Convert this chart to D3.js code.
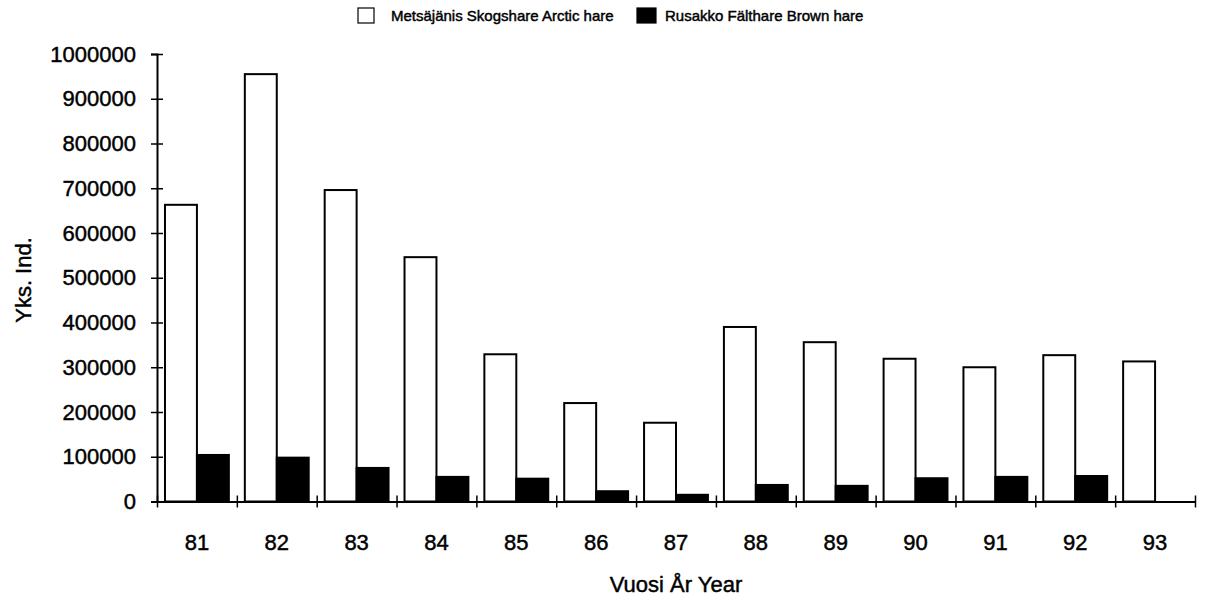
<!DOCTYPE html>
<html>
<head>
<meta charset="utf-8">
<script src="https://cdn.jsdelivr.net/npm/d3@7"></script>
<style>
  body { margin: 0; background: #fff; }
  svg { display: block; font-family: "Liberation Sans", Arial, sans-serif; }
  svg text { fill: #000; stroke: #000; stroke-width: 0.45px; }
</style>
</head>
<body>
<div id="chart"></div>
<script>
const years = ["81", "82", "83", "84", "85", "86", "87", "88", "89", "90", "91", "92", "93"];
const arcticHare = [663000, 955000, 696000, 546000, 329000, 220000, 176000, 390000, 356000, 319000, 300000, 327000, 313000];
const brownHare = [104000, 98000, 75000, 55000, 51000, 23000, 15000, 37000, 35000, 52000, 55000, 57000, null];
const seriesNames = ["Metsäjänis Skogshare Arctic hare", "Rusakko Fälthare Brown hare"];
const yTicks = [0, 100000, 200000, 300000, 400000, 500000, 600000, 700000, 800000, 900000, 1000000];

const width = 1211;
const height = 598;
const plotLeft = 157, plotRight = 1195, plotTop = 54, plotBottom = 501.5;

const svg = d3.select("#chart").append("svg")
  .attr("width", width)
  .attr("height", height);

const x = d3.scaleBand().domain(years).range([plotLeft, plotRight])
  .paddingInner(0.2).paddingOuter(0.1);
const sub = d3.scaleBand().domain([0, 1]).range([0, x.bandwidth()]);
const y = d3.scaleLinear().domain([0, 1000000]).range([plotBottom, plotTop]);

const fills = ["#fff", "#000"];

// bars
const rows = years.map((yr, i) => ({ yr, vals: [arcticHare[i], brownHare[i]] }));
const groups = svg.selectAll("g.year")
  .data(rows)
  .enter()
  .append("g")
  .attr("class", "year")
  .attr("transform", d => `translate(${x(d.yr)},0)`);

groups.selectAll("rect")
  .data(d => d.vals.map((v, k) => ({ v, k })).filter(e => e.v != null))
  .enter()
  .append("rect")
  .attr("x", d => sub(d.k))
  .attr("y", d => y(d.v))
  .attr("width", sub.bandwidth())
  .attr("height", d => y(0) - y(d.v))
  .attr("fill", d => fills[d.k])
  .attr("stroke", "#000")
  .attr("stroke-width", 2);

// y axis
const yAxis = svg.append("g")
  .attr("transform", `translate(${plotLeft},0)`)
  .call(d3.axisLeft(y).tickValues(yTicks).tickFormat(d3.format("d")).tickSize(6).tickPadding(15));
yAxis.select(".domain").attr("stroke-width", 2);
yAxis.selectAll(".tick line").attr("x1", -6).attr("x2", 6).attr("stroke-width", 1.5);
yAxis.selectAll(".tick text").style("font-size", "22px");

// x axis: ticks on category boundaries, labels at centers
const boundaries = d3.range(years.length + 1);
const xb = d3.scaleLinear().domain([0, years.length]).range([plotLeft, plotRight]);
const xAxis = svg.append("g")
  .attr("transform", `translate(0,${y(0)})`)
  .call(d3.axisBottom(xb).tickValues(boundaries).tickFormat("").tickSize(6).tickSizeOuter(0));
xAxis.select(".domain").attr("stroke-width", 2);
xAxis.selectAll(".tick line").attr("y1", -6).attr("y2", 6).attr("stroke-width", 1.5);

const xLabels = svg.append("g")
  .attr("transform", `translate(0,${y(0)})`)
  .call(d3.axisBottom(x).tickSize(0).tickPadding(33));
xLabels.select(".domain").remove();
xLabels.selectAll(".tick text").style("font-size", "22px");

// axis titles
svg.append("text")
  .attr("x", 676)
  .attr("y", 592)
  .attr("text-anchor", "middle")
  .style("font-size", "22px")
  .text("Vuosi År Year");

svg.append("text")
  .attr("transform", "translate(31,280) rotate(-90)")
  .attr("text-anchor", "middle")
  .style("font-size", "22px")
  .text("Yks. Ind.");

// legend
const legendX = [358, 637];
const legend = svg.append("g");
const items = legend.selectAll("g")
  .data(seriesNames)
  .enter()
  .append("g")
  .attr("transform", (d, i) => `translate(${legendX[i]},8)`);
items.append("rect")
  .attr("width", (d, i) => i === 0 ? 16 : 19)
  .attr("height", 15)
  .attr("fill", (d, i) => fills[i])
  .attr("stroke", "#000")
  .attr("stroke-width", 1.2);
items.append("text")
  .attr("x", (d, i) => i === 0 ? 33 : 28)
  .attr("y", 13)
  .style("font-size", "15px")
  .text(d => d);
</script>
</body>
</html>
